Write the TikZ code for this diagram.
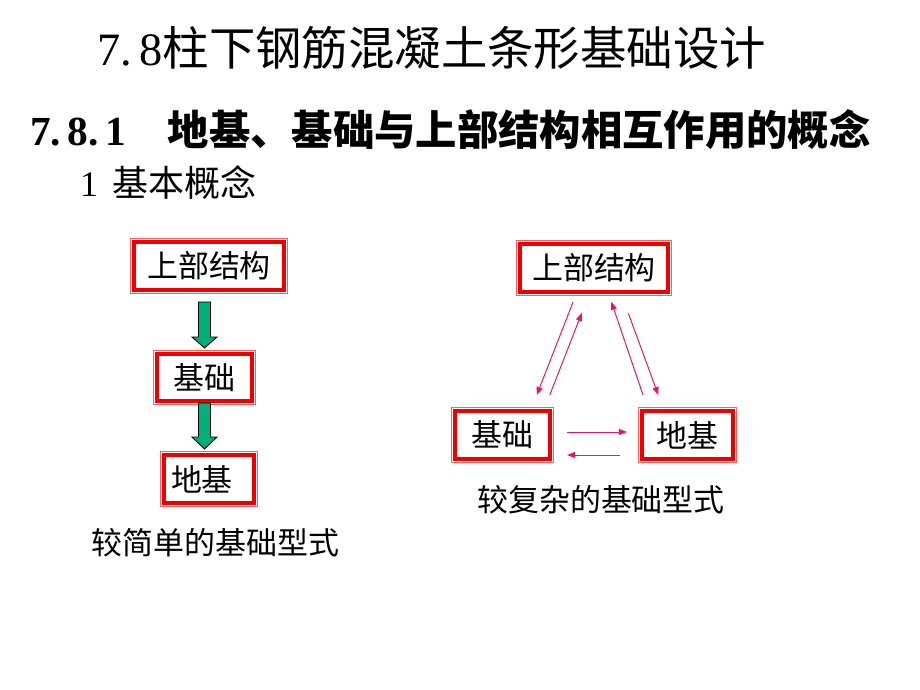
\documentclass[tikz,border=0pt]{standalone}
\usepackage{fontspec}
\setmainfont{Noto Sans CJK SC}
\newfontfamily\latinserif{Liberation Serif}
\usepackage{tikz}
\usetikzlibrary{positioning,calc,arrows.meta}

\definecolor{boxred}{RGB}{238,0,0}
\definecolor{thinred}{RGB}{240,100,100}
\definecolor{arrowgreen}{RGB}{0,176,120}
\definecolor{linkpink}{RGB}{230,20,110}

\begin{document}
\begin{tikzpicture}[x=0.025cm, y=-0.025cm,
  every node/.style={inner sep=0pt, outer sep=0pt},
  part/.style={draw=boxred, line width=2.8pt, fill=white, minimum height=34.1pt,
    font=\fontsize{22pt}{26pt}\selectfont},
  caption/.style={font=\fontsize{22pt}{26pt}\selectfont},
  blockarrow/.style={fill=arrowgreen, draw=black, line width=0.6pt},
  relarrow/.style={draw=linkpink, line width=0.7pt, -{Triangle[length=5.7pt,width=4.3pt]}}]
\useasboundingbox (0,0) rectangle (920,690);

% headings
\node[anchor=west, font=\fontsize{33pt}{38pt}\selectfont] (title) at (97,48)
  {{\latinserif 7.\,8}柱下钢筋混凝土条形基础设计};
\node[anchor=west, font=\fontsize{29.4pt}{34pt}\selectfont\bfseries] (section) at (30,130)
  {{\latinserif 7.\,8.\,1}\hspace{1em}地基、基础与上部结构相互作用的概念};
\node[anchor=west, font=\fontsize{25.6pt}{30pt}\selectfont] (subsection) at (80,183)
  {{\latinserif 1}\hspace{0.4em}基本概念};

% simple form
\node[part, minimum width=106.7pt] (upper1) at (209,266) {上部结构};
\node[part, minimum width=67.6pt, minimum height=33.4pt] (base1) at (204.5,377.5) {基础};
\node[part, minimum width=64pt] (soil1) at (209,479) {\hspace{-10pt}地基};
\node[caption] (simplecap) at (215.5,543) {较简单的基础型式};

% complex form
\node[part, minimum width=105.3pt] (upper2) at (594,268) {上部结构};
\node[part, minimum width=67.6pt] (base2) at (502.5,435) {基础};
\node[part, minimum width=64.7pt] (soil2) at (687.5,435) {地基};
\node[caption] (complexcap) at (601,500) {较复杂的基础型式};

% thin outer frames
\foreach \n in {upper1,base1,soil1,upper2,base2,soil2}
  \draw[thinred, line width=0.6pt] ([shift={(-2.5pt,2.5pt)}]\n.north west)
    rectangle ([shift={(2.5pt,-2.5pt)}]\n.south east);

% green arrows
\filldraw[blockarrow] let \p1=(upper1.south), \p2=(base1.north) in
  (\x2-4.3pt,\y1-8.5pt) -- (\x2+4.3pt,\y1-8.5pt) -- (\x2+4.3pt,\y2+12.1pt)
  -- (\x2+8.9pt,\y2+12.1pt) -- (\x2,\y2+4.3pt) -- (\x2-8.9pt,\y2+12.1pt)
  -- (\x2-4.3pt,\y2+12.1pt) -- cycle;
\filldraw[blockarrow] let \p1=(base1.south), \p2=(soil1.north) in
  (\x1-4.3pt,\y1-1.4pt) -- (\x1+4.3pt,\y1-1.4pt) -- (\x1+4.3pt,\y2+12.8pt)
  -- (\x1+8.9pt,\y2+12.8pt) -- (\x1,\y2+4.3pt) -- (\x1-8.9pt,\y2+12.8pt)
  -- (\x1-4.3pt,\y2+12.8pt) -- cycle;

% interaction arrows
\draw[relarrow, shorten <=7.6pt, shorten >=12.2pt] ($(upper2.south)+(-17,0)$) -- ($(base2.north)+(28,0)$);
\draw[relarrow, shorten <=12.2pt, shorten >=16pt] ($(base2.north)+(41,0)$) -- ($(upper2.south)+(-4,0)$);
\draw[relarrow, shorten <=12pt, shorten >=7.3pt] ($(soil2.north)+(-39,0)$) -- ($(upper2.south)+(14,0)$);
\draw[relarrow, shorten <=16.1pt, shorten >=12.1pt] ($(upper2.south)+(26.5,0)$) -- ($(soil2.north)+(-23.3,0)$);
\draw[relarrow, shorten <=12.1pt, shorten >=10.7pt] ($(base2.east)+(0,-3)$) -- ($(soil2.west)+(0,-3)$);
\draw[relarrow, shorten <=15.6pt, shorten >=12.1pt] ($(soil2.west)+(0,20)$) -- ($(base2.east)+(0,20)$);
\end{tikzpicture}
\end{document}
